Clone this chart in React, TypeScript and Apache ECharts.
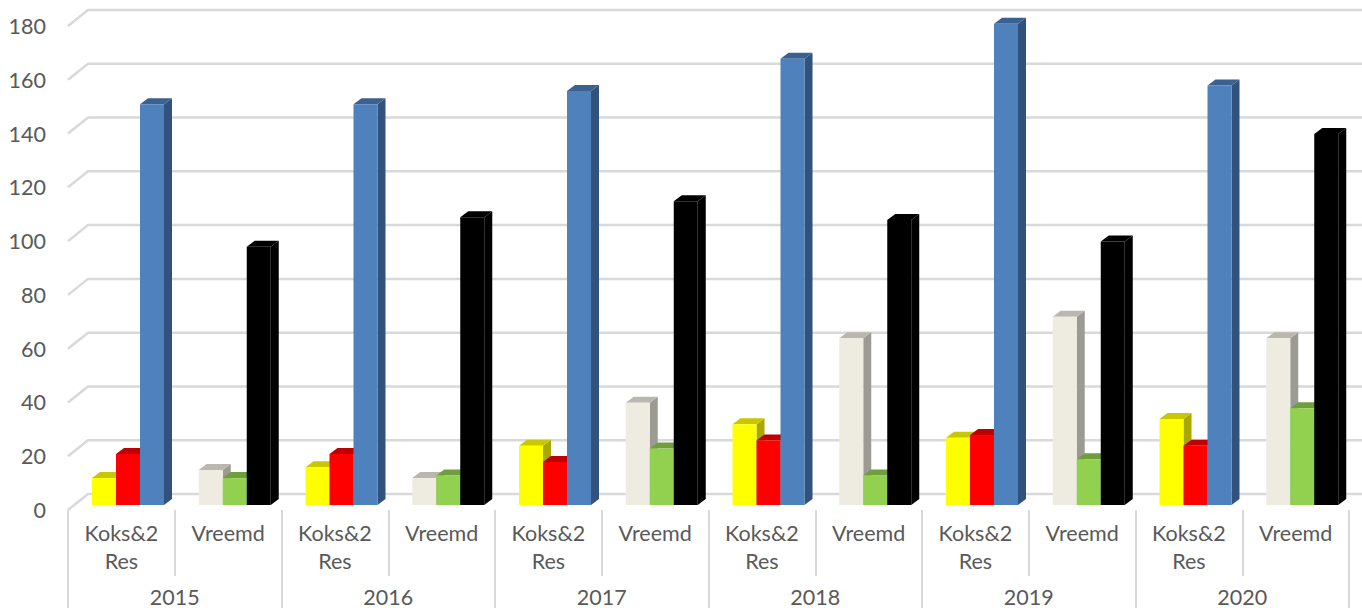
import React, { useEffect, useRef } from "react";
import * as echarts from "echarts";

const years = ["2015", "2016", "2017", "2018", "2019", "2020"];
const categories = years.flatMap(() => ["Koks&2\nRes", "Vreemd"]);
const yTicks = [0, 20, 40, 60, 80, 100, 120, 140, 160, 180];

const koksYellow = [10, 14, 22, 30, 25, 32];
const koksRed = [19, 19, 16, 24, 26, 22];
const koksBlue = [149, 149, 154, 166, 179, 156];
const vreemdBeige = [13, 10, 38, 62, 70, 62];
const vreemdGreen = [10, 11, 21, 11, 17, 36];
const vreemdBlack = [96, 107, 113, 106, 98, 138];

const BAR = 24, DX = 8, DY = 6, FRONT_LIFT = 5, WALL_LIFT = 16, WALL_DX = 20;

function barSeries(name: string, values: number[], group: number, slot: number, front: string, top: string, side: string) {
  return {
    type: "custom",
    name,
    data: values.map((v, i) => [i * 2 + group, v]),
    encode: { x: 0, y: 1 },
    renderItem: (_p: any, api: any) => {
      const idx = api.value(0);
      const base = api.coord([idx, 0]);
      const head = api.coord([idx, api.value(1)]);
      const band = api.size([1, 0])[0];
      const x0 = base[0] - band / 2 + 24 + slot * BAR;
      const x1 = x0 + BAR;
      const yb = base[1] - FRONT_LIFT;
      const yt = head[1] - FRONT_LIFT;
      return {
        type: "group",
        children: [
          { type: "polygon", shape: { points: [[x1, yt], [x1 + DX, yt - DY], [x1 + DX, yb - DY], [x1, yb]] }, style: { fill: side } },
          { type: "polygon", shape: { points: [[x0, yt], [x0 + DX, yt - DY], [x1 + DX, yt - DY], [x1, yt]] }, style: { fill: top } },
          { type: "rect", shape: { x: x0, y: yt, width: BAR, height: yb - yt }, style: { fill: front } },
        ],
      };
    },
  };
}

export default function App() {
  const ref = useRef<HTMLDivElement>(null);
  useEffect(() => {
    document.body.style.margin = "0";
    const chart = echarts.init(ref.current!, undefined, { renderer: "svg" });
    const font = { fontFamily: "Lato, 'Noto Sans', sans-serif", fontSize: 21.5, color: "#595959" };
    chart.setOption({
      animation: false,
      backgroundColor: "#ffffff",
      grid: { left: 68, right: 13, top: 26, height: 484, containLabel: false, outerBoundsMode: "none" },
      xAxis: [
        {
          type: "category",
          data: categories,
          axisLine: { show: false },
          axisTick: { show: true, length: 66, lineStyle: { color: "#d9d9d9", width: 2 } },
          axisLabel: { ...font, margin: 9, lineHeight: 28, interval: 0 },
          splitLine: { show: false },
        },
        {
          type: "category",
          position: "bottom",
          data: years,
          axisLine: { show: false },
          axisTick: { show: true, length: 98, lineStyle: { color: "#d9d9d9", width: 2 } },
          axisLabel: { ...font, margin: 78, lineHeight: 18, interval: 0 },
          splitLine: { show: false },
        },
      ],
      yAxis: {
        type: "value",
        min: 0,
        max: 180,
        interval: 20,
        axisLine: { show: false },
        axisTick: { show: false },
        splitLine: { show: false },
        axisLabel: { ...font, margin: 22 },
      },
      series: [
        {
          type: "custom",
          name: "grid",
          silent: true,
          data: yTicks.map((t) => [0, t]),
          encode: { x: 0, y: 1 },
          renderItem: (p: any, api: any) => {
            const pt = api.coord([0, api.value(1)]);
            const left = p.coordSys.x;
            const y = pt[1];
            return {
              type: "polyline",
              shape: { points: [[left, y], [left + WALL_DX, y - WALL_LIFT], [1362, y - WALL_LIFT]] },
              style: { stroke: "#d9d9d9", lineWidth: 2.5, fill: "none" },
            };
          },
        },
        barSeries("Koks geel", koksYellow, 0, 0, "#ffff00", "#c8c800", "#a8a800"),
        barSeries("Koks rood", koksRed, 0, 1, "#ff0000", "#c00000", "#a80000"),
        barSeries("Koks blauw", koksBlue, 0, 2, "#4f81bd", "#3a6190", "#30527c"),
        barSeries("Vreemd beige", vreemdBeige, 1, 0, "#eeece1", "#b9b7af", "#9c9b93"),
        barSeries("Vreemd groen", vreemdGreen, 1, 1, "#92d050", "#6f9e3d", "#5f8834"),
        barSeries("Vreemd zwart", vreemdBlack, 1, 2, "#000000", "#000000", "#000000"),
      ],
    });
    return () => chart.dispose();
  }, []);
  return <div ref={ref} style={{ width: 1362, height: 608 }} />;
}
